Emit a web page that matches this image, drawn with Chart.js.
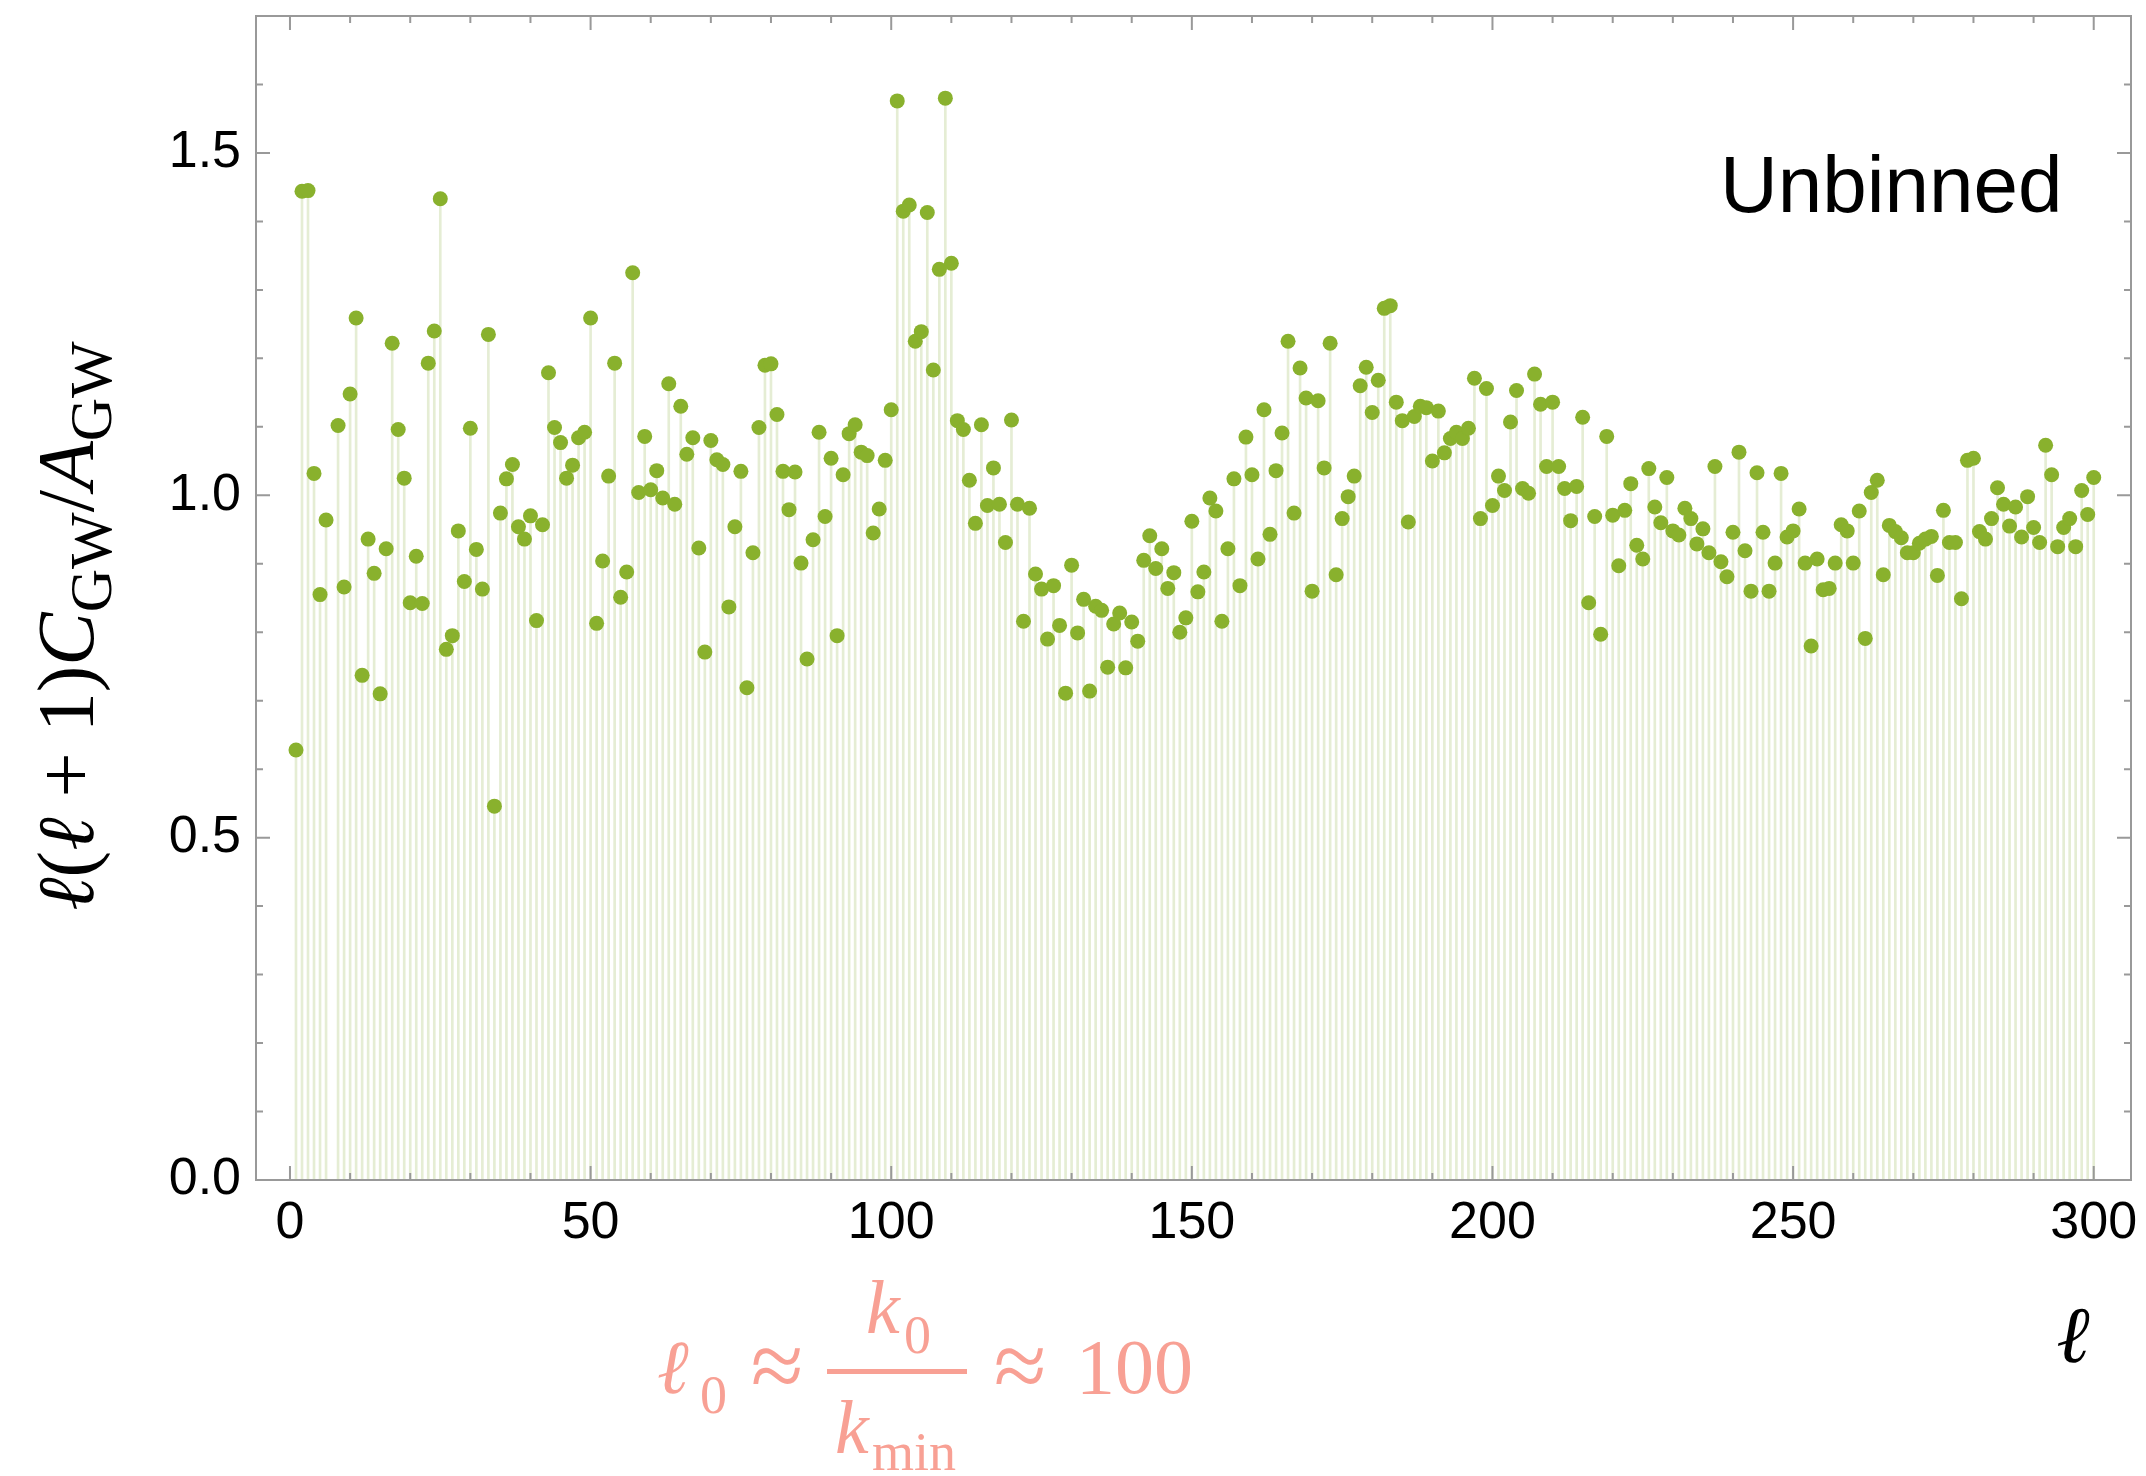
<!DOCTYPE html>
<html>
<head>
<meta charset="utf-8">
<script src="https://cdn.jsdelivr.net/npm/chart.js@4.4.1/dist/chart.umd.min.js"></script>
<style>
  html, body { margin: 0; padding: 0; background: #fff; }
  #myChart { width: 2146px; height: 1476px; display: block; }
</style>
</head>
<body>
<canvas id="myChart" width="2146" height="1476"></canvas>
<script>
// l(l+1) C_GW / A_GW for l = 1..300 (l = 7 has no visible point)
const values = [
  0.628, 1.444, 1.445, 1.032, 0.855, 0.964, null, 1.102, 0.866, 1.148,
  1.259, 0.737, 0.936, 0.886, 0.710, 0.922, 1.222, 1.096, 1.025, 0.843,
  0.911, 0.842, 1.193, 1.240, 1.433, 0.775, 0.795, 0.948, 0.874, 1.098,
  0.921, 0.863, 1.235, 0.546, 0.974, 1.024, 1.045, 0.954, 0.936, 0.970,
  0.817, 0.957, 1.179, 1.099, 1.077, 1.025, 1.044, 1.084, 1.092, 1.259,
  0.813, 0.904, 1.028, 1.193, 0.851, 0.888, 1.325, 1.004, 1.086, 1.008,
  1.036, 0.996, 1.163, 0.987, 1.130, 1.060, 1.084, 0.923, 0.771, 1.080,
  1.052, 1.045, 0.837, 0.954, 1.035, 0.719, 0.916, 1.099, 1.190, 1.192,
  1.118, 1.035, 0.979, 1.034, 0.901, 0.761, 0.935, 1.092, 0.969, 1.054,
  0.795, 1.030, 1.090, 1.103, 1.063, 1.058, 0.945, 0.980, 1.051, 1.125,
  1.576, 1.415, 1.424, 1.225, 1.239, 1.413, 1.183, 1.330, 1.580, 1.339,
  1.109, 1.096, 1.022, 0.959, 1.103, 0.985, 1.040, 0.987, 0.931, 1.110,
  0.987, 0.816, 0.981, 0.885, 0.863, 0.790, 0.868, 0.810, 0.711, 0.898,
  0.799, 0.848, 0.714, 0.838, 0.832, 0.749, 0.812, 0.828, 0.748, 0.815,
  0.787, 0.905, 0.941, 0.893, 0.922, 0.864, 0.887, 0.800, 0.821, 0.962,
  0.859, 0.888, 0.996, 0.977, 0.816, 0.922, 1.024, 0.868, 1.085, 1.030,
  0.907, 1.125, 0.943, 1.036, 1.091, 1.225, 0.974, 1.186, 1.142, 0.860,
  1.138, 1.040, 1.222, 0.884, 0.966, 0.998, 1.028, 1.160, 1.187, 1.121,
  1.168, 1.273, 1.277, 1.136, 1.109, 0.961, 1.115, 1.130, 1.128, 1.050,
  1.123, 1.062, 1.083, 1.092, 1.083, 1.098, 1.171, 0.966, 1.156, 0.985,
  1.028, 1.007, 1.107, 1.153, 1.010, 1.003, 1.177, 1.133, 1.042, 1.136,
  1.042, 1.010, 0.963, 1.013, 1.114, 0.843, 0.969, 0.797, 1.086, 0.971,
  0.897, 0.978, 1.017, 0.927, 0.907, 1.039, 0.983, 0.960, 1.026, 0.948,
  0.942, 0.981, 0.966, 0.929, 0.951, 0.916, 1.042, 0.903, 0.881, 0.946,
  1.063, 0.919, 0.860, 1.033, 0.946, 0.860, 0.901, 1.032, 0.939, 0.948,
  0.980, 0.901, 0.780, 0.907, 0.862, 0.864, 0.901, 0.957, 0.948, 0.901,
  0.977, 0.791, 1.004, 1.022, 0.884, 0.956, 0.947, 0.938, 0.916, 0.916,
  0.930, 0.936, 0.940, 0.883, 0.978, 0.931, 0.931, 0.849, 1.051, 1.054,
  0.947, 0.936, 0.966, 1.011, 0.987, 0.955, 0.983, 0.939, 0.998, 0.953,
  0.931, 1.073, 1.030, 0.925, 0.953, 0.966, 0.925, 1.007, 0.972, 1.026
];
const ells = values.map((v, i) => i + 1);

const xTicks = [0, 50, 100, 150, 200, 250, 300];
const yTicks = [0, 0.5, 1.0, 1.5];
const xMinor = [0, 10, 20, 30, 40, 50, 60, 70, 80, 90, 100, 110, 120, 130, 140, 150,
  160, 170, 180, 190, 200, 210, 220, 230, 240, 250, 260, 270, 280, 290, 300];
const yMinor = [0, 0.1, 0.2, 0.3, 0.4, 0.5, 0.6, 0.7, 0.8, 0.9, 1.0, 1.1, 1.2, 1.3, 1.4, 1.5, 1.6, 1.7];

const points = ells.map((l, i) => ({ x: l, y: values[i] }));

const green = 'rgb(137,177,45)';
const pink = 'rgb(248,160,148)';
const serif = '"Liberation Serif", "DejaVu Serif", serif';
const sans = '"Liberation Sans", Arial, sans-serif';

const frame = {
  id: 'frame',
  afterDraw(chart) {
    const { ctx, chartArea: a, scales: { x, y } } = chart;
    ctx.save();
    ctx.strokeStyle = '#999';
    ctx.lineWidth = 2;
    ctx.strokeRect(a.left, a.top, a.right - a.left, a.bottom - a.top);

    ctx.beginPath();
    xMinor.forEach(v => {
      const len = xTicks.includes(v) ? 14 : 7;
      const px = x.getPixelForValue(v);
      ctx.moveTo(px, a.bottom); ctx.lineTo(px, a.bottom - len);
      ctx.moveTo(px, a.top); ctx.lineTo(px, a.top + len);
    });
    yMinor.forEach(v => {
      const len = yTicks.some(t => Math.abs(t - v) < 1e-6) ? 14 : 7;
      const py = y.getPixelForValue(v);
      ctx.moveTo(a.left, py); ctx.lineTo(a.left + len, py);
      ctx.moveTo(a.right, py); ctx.lineTo(a.right - len, py);
    });
    ctx.stroke();

    // panel label
    ctx.fillStyle = '#000';
    ctx.font = '80px ' + sans;
    ctx.textAlign = 'left';
    ctx.textBaseline = 'alphabetic';
    ctx.fillText('Unbinned', 1720, 212);

    // x axis label
    ctx.font = 'italic 80px ' + serif;
    ctx.textAlign = 'center';
    ctx.fillText('ℓ', 2073, 1362);

    // y axis label, rotated
    const parts = [
      ['ℓ', 'italic 80px', 0], ['(', '80px', 0], ['ℓ', 'italic 80px', 0],
      [' + 1)', '80px', 0], ['C', 'italic 80px', 0], ['GW', '60px', 18],
      ['/', '80px', 0], ['A', 'italic 80px', 0], ['GW', '60px', 18]
    ];
    ctx.textAlign = 'left';
    let total = 0;
    parts.forEach(p => { ctx.font = p[1] + ' ' + serif; total += ctx.measureText(p[0]).width; });
    ctx.translate(93, 626);
    ctx.rotate(-Math.PI / 2);
    let cx = -total / 2;
    parts.forEach(p => {
      ctx.font = p[1] + ' ' + serif;
      ctx.fillText(p[0], cx, p[2]);
      cx += ctx.measureText(p[0]).width;
    });
    ctx.restore();

    // l0 ~ k0/kmin ~ 100
    ctx.save();
    ctx.fillStyle = pink;
    ctx.textAlign = 'left';
    ctx.font = 'italic 76px ' + serif;
    ctx.fillText('ℓ', 657, 1393);
    ctx.fillText('k', 866, 1333);
    ctx.fillText('k', 835, 1453);
    ctx.font = '54px ' + serif;
    ctx.fillText('0', 700, 1413);
    ctx.fillText('0', 904, 1353);
    ctx.fillText('min', 872, 1470);
    ctx.font = '96px ' + serif;
    ctx.textAlign = 'center';
    ctx.fillText('≈', 777, 1398);
    ctx.fillText('≈', 1020, 1398);
    ctx.textAlign = 'left';
    ctx.font = '78px ' + serif;
    ctx.fillText('100', 1076, 1393);
    ctx.fillRect(827, 1369, 140, 5);
    ctx.restore();
  }
};

const ctx = document.getElementById('myChart');
new Chart(ctx, {
  type: 'scatter',
  data: {
    datasets: [
      {
        type: 'bar',
        data: points,
        backgroundColor: 'rgb(229,237,212)',
        barThickness: 2,
        order: 2
      },
      {
        type: 'scatter',
        data: points,
        pointRadius: 7.5,
        pointBackgroundColor: green,
        pointBorderWidth: 0,
        order: 1
      }
    ]
  },
  options: {
    responsive: false,
    animation: false,
    layout: { padding: { top: 16, right: 15, left: 0, bottom: 0 } },
    plugins: { legend: { display: false }, tooltip: { enabled: false } },
    scales: {
      x: {
        type: 'linear',
        min: -5.65,
        max: 306.2,
        offset: false,
        grid: { display: false, drawTicks: false, offset: false },
        border: { display: false },
        afterBuildTicks: s => { s.ticks = xTicks.map(v => ({ value: v })); },
        afterFit: s => { s.height = 296; s.paddingLeft = 0; s.paddingRight = 0; },
        ticks: {
          color: '#000',
          padding: 12,
          maxRotation: 0,
          autoSkip: false,
          font: { family: sans, size: 52 }
        }
      },
      y: {
        min: 0,
        max: 1.70,
        grid: { display: false, drawTicks: false },
        border: { display: false },
        afterBuildTicks: s => { s.ticks = yTicks.map(v => ({ value: v })); },
        afterFit: s => { s.width = 256; s.paddingTop = 0; s.paddingBottom = 0; },
        ticks: {
          color: '#000',
          padding: 15,
          callback: v => v.toFixed(1),
          font: { family: sans, size: 52 }
        }
      }
    }
  },
  plugins: [frame]
});
</script>
</body>
</html>
